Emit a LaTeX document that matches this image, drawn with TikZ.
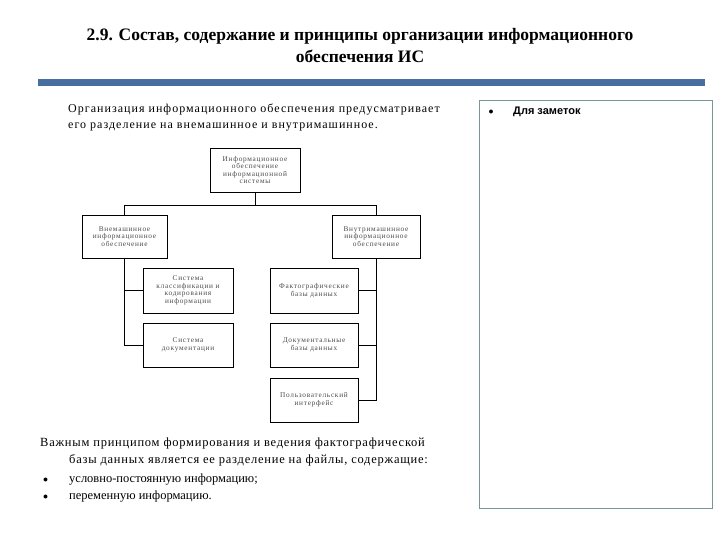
\documentclass[tikz,border=0pt]{standalone}
\usepackage{fontspec}
\setmainfont{Liberation Serif}
\newfontfamily\notefont{Liberation Sans}
\newfontfamily\widefont[LetterSpace=8.5]{Liberation Serif}
\newfontfamily\midfont[LetterSpace=6]{Liberation Serif}
\newfontfamily\boxfont[LetterSpace=10]{Liberation Serif}
\usepackage{xcolor}
\usetikzlibrary{positioning, calc}

\definecolor{barblue}{RGB}{70,110,160}
\definecolor{noteframe}{RGB}{120,150,150}

\begin{document}
\begin{tikzpicture}[
    x=1pt, y=-1pt,
    box/.style={rectangle, draw=black, line width=0.6pt, fill=white, align=center, inner sep=1pt, font=\boxfont\fontsize{7.3}{7.6}\selectfont, text=black!70},
    link/.style={draw=black, line width=0.6pt},
    title/.style={align=center, font=\fontsize{17.5}{22}\selectfont\bfseries},
    para/.style={align=left, anchor=north west, inner sep=0pt, font=\widefont\fontsize{12}{16}\selectfont}
]
\useasboundingbox (0,0) rectangle (720,540);

% Title and bar
\node[title] (head) at (360,46) {2.9. Состав, содержание и принципы организации информационного\\обеспечения ИС};
\fill[barblue] (38,79) rectangle (705,86);

% Notes column
\draw[noteframe, line width=0.8pt] (479,100) rectangle (712,508);
\node[font=\fontsize{10}{12}\selectfont] (notebullet) at (491,112) {$\bullet$};
\node[anchor=west, font=\notefont\fontsize{11}{13}\selectfont\bfseries, inner sep=0pt] (notes) at (513,112) {Для заметок};

% Intro text
\node[para] (intro) at (68,104) {Организация информационного обеспечения предусматривает\\его разделение на внемашинное и внутримашинное.};

% Hierarchy boxes
\node[box, minimum width=90, minimum height=44] (infosys) at (255,170) {Информационное\\обеспечение\\информационной\\системы};
\node[box, minimum width=85, minimum height=43] (outer) at (124.5,236.5) {Внемашинное\\информационное\\обеспечение};
\node[box, minimum width=88, minimum height=43] (inner) at (376,236.5) {Внутримашинное\\информационное\\обеспечение};
\node[box, minimum width=90, minimum height=45] (classif) at (188,290.5) {Система\\классификации и\\кодирования\\информации};
\node[box, minimum width=90, minimum height=44] (docsys) at (188,345) {Система\\документации};
\node[box, minimum width=88, minimum height=45] (factdb) at (314,290.5) {Фактографические\\базы данных};
\node[box, minimum width=88, minimum height=44] (docdb) at (314,345) {Документальные\\базы данных};
\node[box, minimum width=88, minimum height=44] (userif) at (314,400) {Пользовательский\\интерфейс};

% Connect top level
\draw[link] (infosys.south) -- ++(0,13) -| (outer.north);
\draw[link] (infosys.south) -- ++(0,13) -| (inner.north);

% Connect left branch
\draw[link] (outer.south) |- (classif.west);
\draw[link] (outer.south) |- (docsys.west);

% Connect right branch
\draw[link] (inner.south) |- (factdb.east);
\draw[link] (inner.south) |- (docdb.east);
\draw[link] (inner.south) |- (userif.east);

% Closing text
\node[para, font=\midfont\fontsize{12.5}{17}\selectfont] (principle) at (40,438) {Важным принципом формирования и ведения фактографической\\\hspace*{29pt}базы данных является ее разделение на файлы, содержащие:};
\node[anchor=west, inner sep=0pt, font=\fontsize{10}{12}\selectfont] (bulleta) at (43,480) {$\bullet$};
\node[anchor=west, inner sep=0pt, font=\fontsize{12.5}{17}\selectfont] (itema) at (69,480) {условно-постоянную информацию;};
\node[anchor=west, inner sep=0pt, font=\fontsize{10}{12}\selectfont] (bulletb) at (43,497) {$\bullet$};
\node[anchor=west, inner sep=0pt, font=\fontsize{12.5}{17}\selectfont] (itemb) at (69,497) {переменную информацию.};
\end{tikzpicture}
\end{document}
